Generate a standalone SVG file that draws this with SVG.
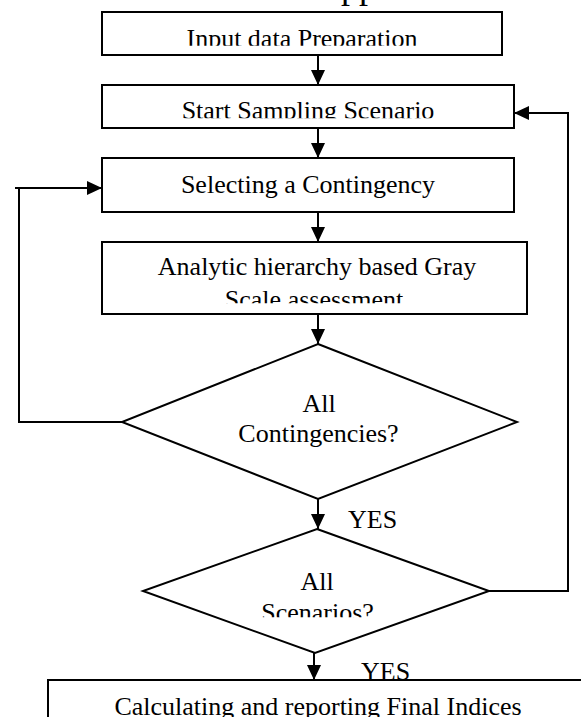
<svg xmlns="http://www.w3.org/2000/svg" width="581" height="717" viewBox="0 0 581 717">
<style>
.box{fill:#fff;stroke:#000;stroke-width:2}
.dia{fill:#fff;stroke:#000;stroke-width:2}
.t{font-family:"Liberation Serif","Times New Roman",serif;font-size:26px;fill:#000;text-anchor:middle}
.ts{font-family:"Liberation Serif","Times New Roman",serif;font-size:26px;fill:#000}
.c{fill:none;stroke:#000;stroke-width:2}
</style>
<defs>
<marker id="ah" markerUnits="userSpaceOnUse" markerWidth="16" markerHeight="15" refX="15" refY="7" orient="auto">
<path d="M0,0 L15,7 L0,14 Z" fill="#000"/>
</marker>
<clipPath id="c1"><rect x="0" y="12" width="581" height="33.8"/></clipPath>
<clipPath id="c2"><rect x="0" y="85" width="581" height="33.3"/></clipPath>
<clipPath id="c4"><rect x="0" y="280" width="581" height="23.3"/></clipPath>
<clipPath id="c6"><rect x="0" y="595" width="581" height="22.3"/></clipPath>
</defs>
<text class="ts" x="341" y="-2.5" style="font-size:36px">pp</text>
<g id="n1">
<rect class="box" x="102" y="12" width="400" height="43"/>
<text class="t" x="302" y="46.7" clip-path="url(#c1)">Input data Preparation</text>
</g>
<g id="n2">
<rect class="box" x="102" y="85" width="412" height="43"/>
<text class="t" x="308" y="119" clip-path="url(#c2)">Start Sampling Scenario</text>
</g>
<g id="n3">
<rect class="box" x="102" y="158" width="412" height="54"/>
<text class="t" x="308" y="193">Selecting a Contingency</text>
</g>
<g id="n4">
<rect class="box" x="102" y="242" width="425" height="72"/>
<text class="t" x="317" y="275">Analytic hierarchy based Gray</text>
<text class="t" x="314" y="307.5" clip-path="url(#c4)">Scale assessment</text>
</g>
<g id="n5">
<polygon class="dia" points="318,344 517,422 318,499 122,422"/>
<text class="t" x="319" y="411.5">All</text>
<text class="t" x="318.5" y="441.5">Contingencies?</text>
</g>
<g id="n6">
<polygon class="dia" points="317,529 489,591 315,653 143,591"/>
<text class="t" x="317" y="590">All</text>
<text class="t" x="317.5" y="620.5" clip-path="url(#c6)">Scenarios?</text>
</g>
<g id="n7">
<rect class="box" x="48" y="680" width="600" height="100"/>
<text class="t" x="318" y="715">Calculating and reporting Final Indices</text>
</g>
<g id="connectors">
<path class="c" d="M318,55 V85" marker-end="url(#ah)"/>
<path class="c" d="M318,128 V158" marker-end="url(#ah)"/>
<path class="c" d="M318,212 V242" marker-end="url(#ah)"/>
<path class="c" d="M318,314 V344" marker-end="url(#ah)"/>
<path class="c" d="M318,499 V529" marker-end="url(#ah)"/>
<path class="c" d="M314,653 V680" marker-end="url(#ah)"/>
<path class="c" d="M122,422 H19 V188"/>
<path class="c" d="M15,188 H102" marker-end="url(#ah)"/>
<path class="c" d="M489,591 H568 V113 H514" marker-end="url(#ah)"/>
<text class="ts" x="348" y="528">YES</text>
<text class="ts" x="361" y="680">YES</text>
</g>
</svg>
